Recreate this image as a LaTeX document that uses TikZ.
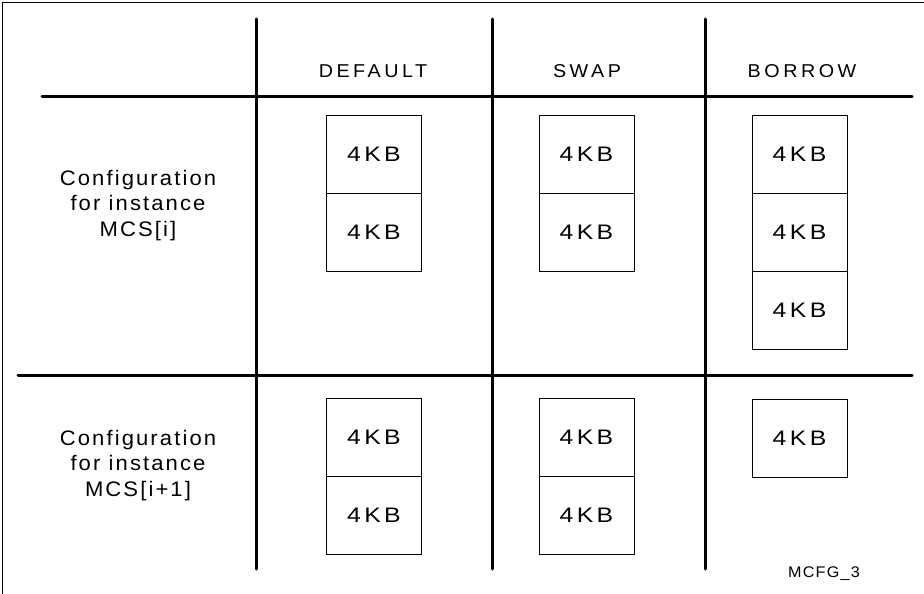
\documentclass[tikz,border=0pt]{standalone}
\usepackage{fontspec}
\setmainfont{Liberation Sans}
\newfontfamily\kbfont[FakeStretch=1.18,LetterSpace=16]{Liberation Sans}
\newfontfamily\hdfont[FakeStretch=1.06,LetterSpace=19]{Liberation Sans}
\newfontfamily\lbfont[FakeStretch=1.05,LetterSpace=10]{Liberation Sans}
\newfontfamily\tgfont[FakeStretch=1.05,LetterSpace=8]{Liberation Sans}
\tikzset{
  grid/.style={line width=3pt, line cap=round},
  frame/.style={line width=1.3pt},
  kb/.style={draw, line width=0.9pt, minimum width=95pt, minimum height=78pt, inner sep=0pt,
             font=\kbfont\fontsize{21}{25}\selectfont},
  head/.style={font=\hdfont\fontsize{18.6}{22}\selectfont, inner sep=0pt},
  lbl/.style={font=\lbfont\fontsize{21}{25}\selectfont, inner sep=0pt, anchor=base},
  tag/.style={font=\tgfont\fontsize{15.4}{18}\selectfont, inner sep=0pt}
}
\begin{document}
\begin{tikzpicture}[x=1pt,y=-1pt]
\useasboundingbox (0,0) rectangle (924,594);
% frame (top and left only)
\coordinate (fa) at (924,2.5);
\coordinate (fb) at (2.5,2.5);
\coordinate (fc) at (2.5,594);
\draw[frame] (fa) -- (fb) -- (fc);
% grid lines
\coordinate (v1t) at (256,19); \coordinate (v1b) at (256,569);
\coordinate (v2t) at (492,19); \coordinate (v2b) at (492,569);
\coordinate (v3t) at (705,19); \coordinate (v3b) at (705,569);
\coordinate (h1l) at (42,96);  \coordinate (h1r) at (912,96);
\coordinate (h2l) at (18,375); \coordinate (h2r) at (912,375);
\draw[grid] (v1t) -- (v1b);
\draw[grid] (v2t) -- (v2b);
\draw[grid] (v3t) -- (v3b);
\draw[grid] (h1l) -- (h1r);
\draw[grid] (h2l) -- (h2r);
% headers
\node[head] (hd) at (373,71.5) {DEFAULT};
\node[head] (hs) at (587,71.5) {SWAP};
\node[head] (hb) at (802,71.5) {BORROW};
% row labels
\node[lbl] (l1a) at (138,185) {Configuration};
\node[lbl] (l1b) at (138,210.5) {for instance};
\node[lbl] (l1c) at (138,236) {MCS[i]};
\node[lbl] (l2a) at (138,445) {Configuration};
\node[lbl] (l2b) at (138,470.5) {for instance};
\node[lbl] (l2c) at (138,496) {MCS[i+1]};
% row 1 boxes
\node[kb] (d1a) at (374,154) {4KB};
\node[kb] (d1b) at (374,232) {4KB};
\node[kb] (s1a) at (586.5,154) {4KB};
\node[kb] (s1b) at (586.5,232) {4KB};
\node[kb] (b1a) at (799.5,154) {4KB};
\node[kb] (b1b) at (799.5,232) {4KB};
\node[kb] (b1c) at (799.5,310) {4KB};
% row 2 boxes
\node[kb] (d2a) at (374,437) {4KB};
\node[kb] (d2b) at (374,515) {4KB};
\node[kb] (s2a) at (586.5,437) {4KB};
\node[kb] (s2b) at (586.5,515) {4KB};
\node[kb] (b2a) at (799.5,438) {4KB};
% tag
\node[tag] (tg) at (824,574) {MCFG\_3};
\end{tikzpicture}
\end{document}
